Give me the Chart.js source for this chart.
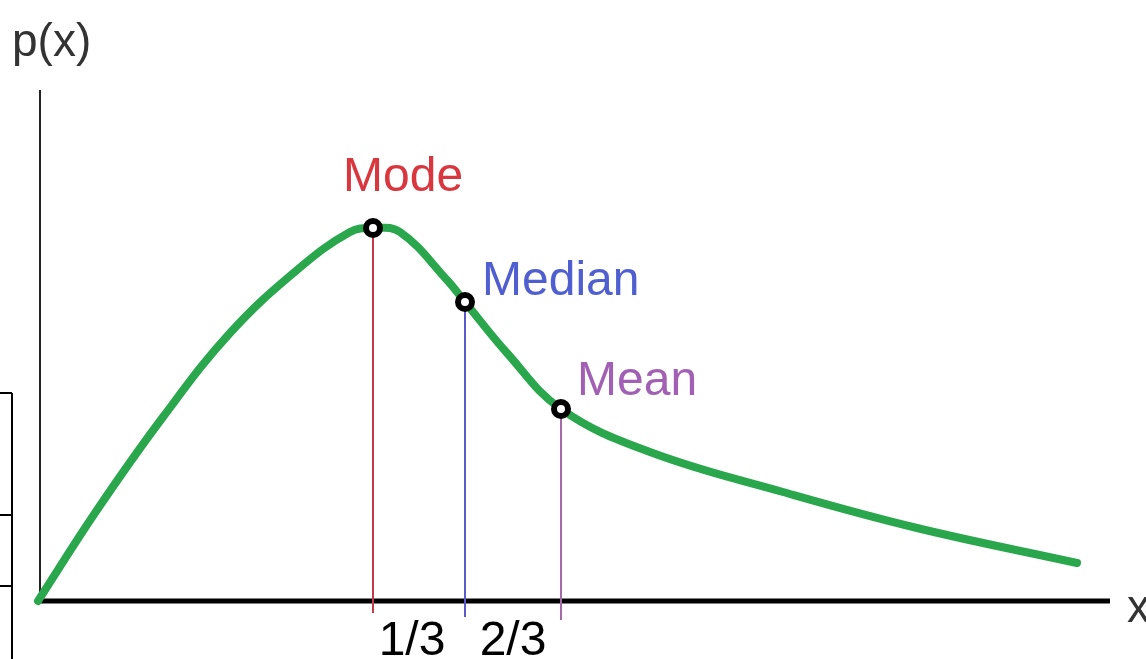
<!DOCTYPE html>
<html>
<head>
<meta charset="utf-8">
<script src="https://cdn.jsdelivr.net/npm/chart.js@4"></script>
<style>
  body { margin: 0; background: #fff; }
  canvas { display: block; }
</style>
</head>
<body>
<canvas id="skewChart" width="1146" height="659"></canvas>
<script>
// curve (x along the axis, p(x) height)
const curveX = [0, 59, 125, 192, 259, 312, 335, 362, 409, 427, 469, 523, 612, 745, 879, 1039];
const curveY = [0, 91, 184, 268, 331, 369, 373, 369, 321, 299, 248, 192, 149, 109, 73, 38];

// mode / median / mean markers
const statNames = ["Mode", "Median", "Mean"];
const statX = [335, 427, 523];
const statY = [373, 299, 192];
const dropBelow = [-12, -16, -19];

// labels under the axis
const tickValues = [374, 475];
const tickLabels = ["1/3", "2/3"];

const FONT = "'Liberation Sans', Arial, sans-serif";
const textColors = ["#d9363e", "#4f5fd0", "#a260b5"];
const lineColors = ["#c23a4c", "#5a5ac8", "#a46aa8"];

function dropLine(i) {
    return {
        data: [{ x: statX[i], y: dropBelow[i] }, { x: statX[i], y: statY[i] }],
        showLine: true,
        borderColor: lineColors[i],
        borderWidth: 2,
        pointRadius: 0,
        clip: false,
        order: 3
    };
}

const axesPlugin = {
    id: "axes",
    beforeDatasetsDraw(chart) {
        const ctx = chart.ctx;
        const { left, bottom } = chart.chartArea;
        ctx.save();
        // y axis
        ctx.strokeStyle = "#222";
        ctx.lineWidth = 2;
        ctx.beginPath();
        ctx.moveTo(left + 2, 90);
        ctx.lineTo(left + 2, bottom);
        ctx.stroke();
        // x axis
        ctx.strokeStyle = "#000";
        ctx.lineWidth = 5;
        ctx.beginPath();
        ctx.moveTo(left - 3, bottom);
        ctx.lineTo(1110, bottom);
        ctx.stroke();
        // the little box cut off at the left edge
        ctx.lineWidth = 2;
        ctx.beginPath();
        ctx.moveTo(12, 393); ctx.lineTo(12, 659);
        [393, 515, 586].forEach(y => { ctx.moveTo(0, y); ctx.lineTo(12, y); });
        ctx.stroke();
        ctx.restore();
    },
    afterDraw(chart) {
        const ctx = chart.ctx;
        const xs = chart.scales.x, ys = chart.scales.y;
        ctx.save();
        ctx.textBaseline = "alphabetic";
        // axis names
        ctx.fillStyle = "#333";
        ctx.textAlign = "left";
        ctx.font = "46px " + FONT;
        ctx.fillText("p(x)", 12, 56);
        ctx.fillText("x", 1127, 622);
        // stat names
        ctx.font = "48px " + FONT;
        const offsets = [[-30, -37], [17, -7], [16, -14]];
        statNames.forEach((name, i) => {
            const px = xs.getPixelForValue(statX[i]);
            const py = ys.getPixelForValue(statY[i]);
            ctx.fillStyle = textColors[i];
            ctx.fillText(name, px + offsets[i][0], py + offsets[i][1]);
        });
        // tick labels
        ctx.fillStyle = "#000";
        ctx.textAlign = "center";
        tickValues.forEach((v, i) => {
            ctx.fillText(tickLabels[i], xs.getPixelForValue(v), 655);
        });
        ctx.restore();
    }
};

new Chart(document.getElementById("skewChart"), {
    type: "scatter",
    data: {
        datasets: [
            {
                data: statX.map((x, i) => ({ x: x, y: statY[i] })),
                pointStyle: "circle",
                pointRadius: 7,
                pointBorderWidth: 6,
                pointBorderColor: "#000",
                pointBackgroundColor: "#fff",
                clip: false,
                order: 0
            },
            {
                data: curveX.map((x, i) => ({ x: x, y: curveY[i] })),
                showLine: true,
                borderColor: "#2aa64c",
                borderWidth: 8,
                borderCapStyle: "round",
                tension: 0.4,
                pointRadius: 0,
                clip: false,
                order: 1
            },
            dropLine(0),
            dropLine(1),
            dropLine(2)
        ]
    },
    options: {
        responsive: false,
        animation: false,
        layout: { padding: { left: 38, right: 36, top: 90, bottom: 58 } },
        scales: {
            x: { type: "linear", min: 0, max: 1072, display: false },
            y: { type: "linear", min: 0, max: 511, display: false }
        },
        plugins: {
            legend: { display: false },
            tooltip: { enabled: false }
        }
    },
    plugins: [axesPlugin]
});
</script>
</body>
</html>
